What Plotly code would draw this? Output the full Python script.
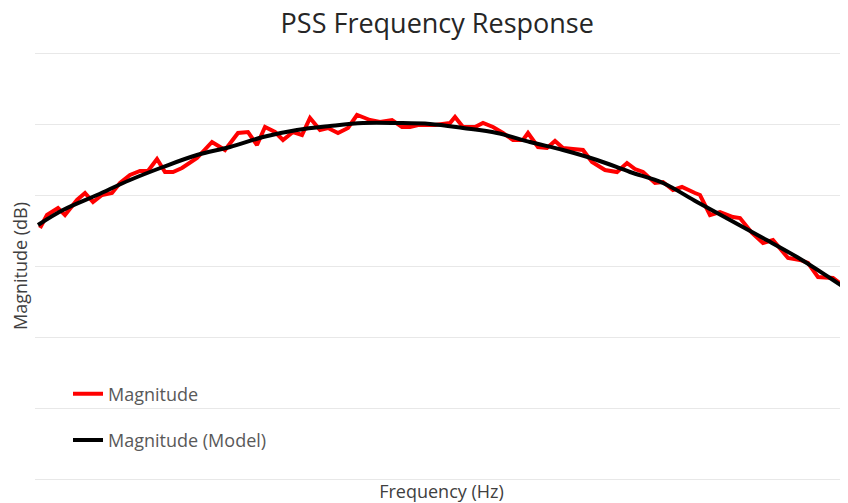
import plotly.graph_objects as go

# Measured (noisy) magnitude response
freq_meas = [0.40, 0.47, 0.58, 0.65, 0.77, 0.85, 0.93, 1.02, 1.12, 1.20,
             1.30, 1.40, 1.48, 1.57, 1.65, 1.73, 1.82, 1.90, 1.97, 2.12,
             2.25, 2.38, 2.48, 2.57, 2.65, 2.75, 2.83, 2.93, 3.02, 3.10,
             3.20, 3.28, 3.38, 3.48, 3.57, 3.65, 3.70, 3.80, 3.92, 4.02,
             4.10, 4.18, 4.35, 4.50, 4.55, 4.63, 4.75, 4.83, 4.93, 5.03,
             5.13, 5.23, 5.28, 5.38, 5.47, 5.55, 5.63, 5.73, 5.83, 5.92,
             6.05, 6.17, 6.27, 6.35, 6.43, 6.55, 6.63, 6.73, 6.82, 6.95,
             7.00, 7.10, 7.20, 7.33, 7.40, 7.52, 7.63, 7.73, 7.88, 8.00,
             8.08, 8.18, 8.33, 8.45]
mag_meas = [25.1, 26.4, 27.1, 26.4, 27.9, 28.6, 27.7, 28.4, 28.6, 29.6,
            30.4, 30.8, 30.8, 32.0, 30.7, 30.7, 31.1, 31.7, 32.1, 33.7,
            32.9, 34.6, 34.7, 33.4, 35.2, 34.7, 33.9, 34.7, 34.4, 36.1,
            34.9, 35.1, 34.6, 35.1, 36.4, 36.1, 35.9, 35.7, 35.9, 35.2,
            35.2, 35.4, 35.4, 35.6, 36.2, 35.2, 35.2, 35.6, 35.2, 34.6,
            33.9, 33.9, 34.6, 33.2, 33.1, 33.8, 33.1, 33.0, 32.9, 31.7,
            30.9, 30.7, 31.6, 31.0, 30.7, 29.6, 29.7, 28.9, 29.2, 28.6,
            28.4, 26.4, 26.7, 26.2, 26.1, 24.6, 23.6, 23.9, 22.1, 21.9,
            21.6, 20.2, 20.1, 19.2]

# Model (smooth) magnitude response
freq_model = [0.38, 0.63, 0.97, 1.30, 1.63, 1.97, 2.30, 2.63, 2.97, 3.30,
              3.63, 3.97, 4.30, 4.63, 4.97, 5.30, 5.63, 5.97, 6.30, 6.63,
              6.97, 7.30, 7.63, 7.97, 8.30, 8.48]
mag_model = [25.4, 26.9, 28.4, 29.9, 31.2, 32.4, 33.2, 34.2, 34.9, 35.3,
             35.6, 35.6, 35.5, 35.1, 34.6, 33.7, 32.9, 31.9, 30.7, 29.6,
             27.7, 25.9, 24.1, 22.2, 20.1, 18.9]

assert len(freq_meas) == len(mag_meas)
assert len(freq_model) == len(mag_model)

FONT = "Open Sans"

fig = go.Figure()
fig.add_trace(go.Scatter(
    x=freq_meas, y=mag_meas, mode="lines", name="Magnitude",
    line=dict(color="#FF0000", width=4), legendgroup="a"))
fig.add_trace(go.Scatter(
    x=freq_model, y=mag_model, mode="lines", name="Magnitude (Model)",
    line=dict(color="#000000", width=4, shape="spline", smoothing=1.0),
    legendgroup="b"))

fig.update_layout(
    width=840, height=503,
    paper_bgcolor="white", plot_bgcolor="white",
    margin=dict(l=27, r=0, t=42, b=29),
    title=dict(text="PSS Frequency Response", x=0.511, xanchor="center",
               y=1.0, yanchor="top", pad=dict(t=6, b=0),
               font=dict(family=FONT, size=27, color="#262626")),
    xaxis=dict(range=[0.35, 8.48], showgrid=False, zeroline=False,
               showline=False, showticklabels=False, ticks="",
               title=dict(text="Frequency (Hz)", standoff=3,
                          font=dict(family=FONT, size=18, color="#404040")),
               automargin=False),
    yaxis=dict(range=[-0.3, 42.9], tick0=0, dtick=7.1,
               showgrid=True, gridcolor="#E8E8E8", gridwidth=1,
               zeroline=False, showline=False, showticklabels=False,
               ticks="",
               title=dict(text="Magnitude (dB)", standoff=3,
                          font=dict(family=FONT, size=18, color="#404040")),
               automargin=False),
    legend=dict(x=0.0406, y=0.2465, xanchor="left", yanchor="top",
                bgcolor="rgba(0,0,0,0)", traceorder="grouped",
                tracegroupgap=20, itemwidth=30,
                font=dict(family=FONT, size=18, color="#595959")),
    showlegend=True,
)

fig.write_html("out.html")
